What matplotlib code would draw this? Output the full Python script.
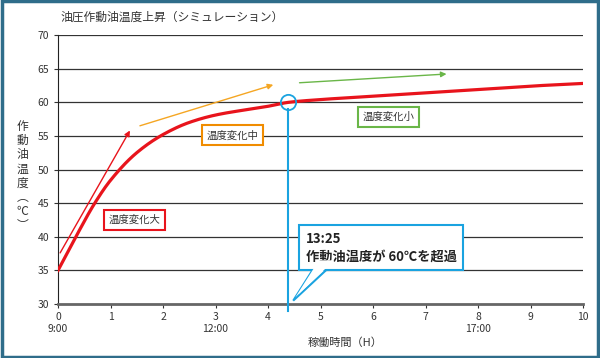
import numpy as np
import matplotlib.pyplot as plt
from matplotlib.patches import Rectangle, Polygon

plt.rcParams['font.family'] = ['Noto Sans CJK JP', 'DejaVu Sans']

# 稼働時間 (H) と 作動油温度 (℃)
hours = [0, 0.34, 0.7, 1.0, 1.5, 2.0, 2.5, 3.0, 4.0, 4.4, 5.0, 6.0, 7.0, 8.0, 9.0, 10.0]
temps = [35.0, 40.0, 45.0, 48.4, 52.5, 55.2, 57.0, 58.1, 59.4, 60.0, 60.4, 60.9, 61.4, 61.9, 62.4, 62.8]

x_ticks = list(range(0, 11))
clock = {0: '9:00', 3: '12:00', 8: '17:00'}
y_ticks = [30, 35, 40, 45, 50, 55, 60, 65, 70]

# 矢印 (始点, 終点)
arrows = [
    ((0.04, 37.6), (1.37, 55.8), '#e8141c'),
    ((1.56, 56.5), (4.1, 62.6), '#f5a623'),
    ((4.6, 62.9), (7.4, 64.2), '#6ab648'),
]
labels = [
    (1.45, 42.5, '温度変化大', '#e8141c'),
    (3.33, 55.1, '温度変化中', '#f08c00'),
    (6.29, 57.8, '温度変化小', '#6ab648'),
]
cross_x, cross_y = 4.38, 60.0


def pchip(x, y, xn):
    # monotone cubic through the read points
    x = np.asarray(x, float); y = np.asarray(y, float)
    h = np.diff(x); d = np.diff(y) / h
    m = np.zeros_like(y)
    for k in range(1, len(x) - 1):
        if d[k - 1] * d[k] > 0:
            w1 = 2 * h[k] + h[k - 1]; w2 = h[k] + 2 * h[k - 1]
            m[k] = (w1 + w2) / (w1 / d[k - 1] + w2 / d[k])
    m[0] = d[0]; m[-1] = d[-1]
    out = np.empty_like(xn)
    for i, t in enumerate(xn):
        k = min(np.searchsorted(x, t, side='right') - 1, len(h) - 1)
        s = (t - x[k]) / h[k]
        h00 = 2*s**3 - 3*s**2 + 1; h10 = s**3 - 2*s**2 + s
        h01 = -2*s**3 + 3*s**2; h11 = s**3 - s**2
        out[i] = h00*y[k] + h10*h[k]*m[k] + h01*y[k+1] + h11*h[k]*m[k+1]
    return out


xs = np.linspace(0, 10, 400)
ys = pchip(hours, temps, xs)

fig = plt.figure(figsize=(6, 3.58), dpi=100)
fig.patch.set_facecolor('white')
fig.patches.append(Rectangle((0.003, 0.004), 0.994, 0.992, transform=fig.transFigure,
                             fill=False, edgecolor='#2f6d8a', linewidth=2.5))

ax = fig.add_axes([0.0967, 0.1508, 0.875, 0.7514])
ax.set_xlim(0, 10)
ax.set_ylim(30, 70)
ax.set_yticks(y_ticks)
ax.set_xticks(x_ticks)
ax.set_xticklabels([f'{t}\n{clock[t]}' if t in clock else str(t) for t in x_ticks],
                   va='top', linespacing=1.2)
ax.tick_params(axis='both', labelsize=7.5, colors='#333333', length=3, width=0.8)
ax.tick_params(axis='x', pad=3)
for y in y_ticks[1:]:
    ax.axhline(y, color='#333333', linewidth=0.9, zorder=1)
for s in ['top', 'right']:
    ax.spines[s].set_visible(False)
ax.spines['left'].set_color('#222222')
ax.spines['bottom'].set_color('#666666')
ax.spines['bottom'].set_linewidth(2)

ax.plot(xs, ys, color='#e8141c', linewidth=2.3, zorder=4)

for (x0, y0), (x1, y1), c in arrows:
    ax.annotate('', xy=(x1, y1), xytext=(x0, y0),
                arrowprops=dict(arrowstyle='-|>', color=c, lw=1.0,
                                mutation_scale=8, shrinkA=0, shrinkB=0), zorder=3)

for x, y, t, c in labels:
    ax.text(x, y, t, fontsize=7.5, color='#333333', ha='center', va='center', zorder=6,
            bbox=dict(boxstyle='square,pad=0.45', facecolor='white', edgecolor=c, linewidth=1.5))

blue = '#1aa3e0'
ax.plot([cross_x, cross_x], [28.9, cross_y - 1.05], color=blue, linewidth=1.5,
        zorder=5, clip_on=False)
ax.plot([cross_x], [cross_y], marker='o', markersize=11, markerfacecolor='none',
        markeredgecolor=blue, markeredgewidth=1.3, zorder=6)

# callout
ax.add_patch(Polygon([(4.95, 36.3), (5.28, 36.3), (4.48, 30.5)], closed=True,
                     facecolor='white', edgecolor=blue, linewidth=1.5, zorder=6))
ax.text(4.72, 38.4, '13:25\n作動油温度が 60℃を超過', fontsize=9.5, fontweight='bold',
        color='#222222', ha='left', va='center', linespacing=1.35, zorder=7,
        bbox=dict(boxstyle='square,pad=0.5', facecolor='white', edgecolor=blue, linewidth=1.5))
ax.add_patch(Polygon([(4.97, 36.5), (5.26, 36.5), (4.52, 31.0)], closed=True,
                     facecolor='white', edgecolor='none', zorder=8))

fig.text(0.1, 0.953, '油圧作動油温度上昇（シミュレーション）', fontsize=8.5, color='#333333',
         ha='left', va='center')
fig.text(0.575, 0.042, '稼働時間（H）', fontsize=8, color='#333333', ha='center', va='center')
fig.text(0.037, 0.508, '作\n動\n油\n温\n度\n︵\n℃\n︶', fontsize=8.5, color='#333333',
         ha='center', va='center', linespacing=1.12)

fig.savefig('out.png', dpi=100)
